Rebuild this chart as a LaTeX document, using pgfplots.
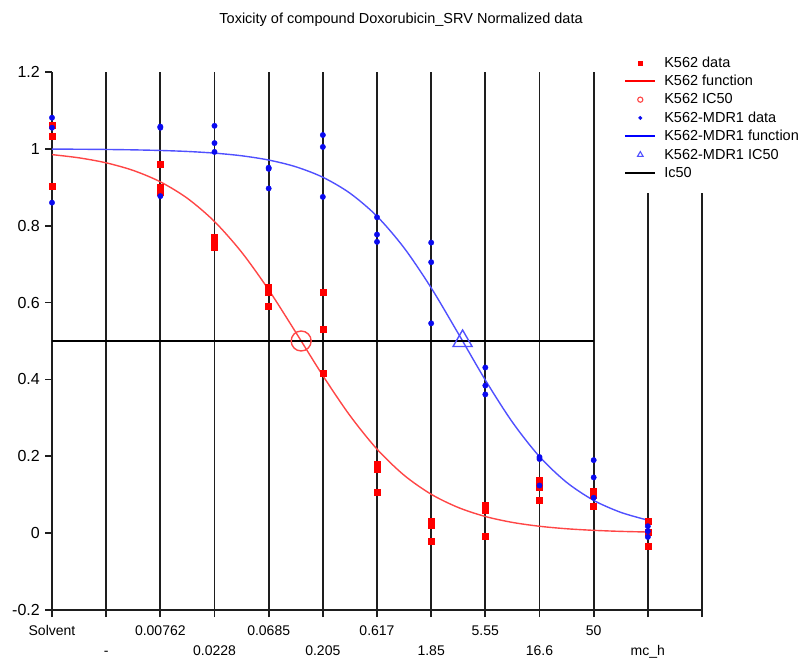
\documentclass[border=0pt]{standalone}
\usepackage{fontspec}
\setmainfont{Liberation Sans}
\usepackage{pgfplots}
\pgfplotsset{compat=1.18}
\definecolor{rdata}{RGB}{255,0,0}
\definecolor{rfun}{RGB}{255,70,70}
\definecolor{bdata}{RGB}{10,10,240}
\definecolor{bfun}{RGB}{80,80,255}
\definecolor{gridc}{RGB}{30,30,30}
\pgfplotsset{
  linelegend/.style={legend image code/.code={\draw[##1] (0bp,0bp) -- (30bp,0bp);}},
  marklegend/.style={legend image code/.code={\draw[mark repeat=2,mark phase=2,##1] plot coordinates {(0bp,0bp) (15bp,0bp) (30bp,0bp)};}},
}
\begin{document}
\begin{tikzpicture}
\useasboundingbox (0,0) rectangle (802bp,658bp);
\begin{axis}[
  at={(52bp,48bp)}, anchor=south west,
  scale only axis, width=650bp, height=538bp,
  xmin=0, xmax=12, ymin=-0.2, ymax=1.2,
  clip=false,
  axis x line=bottom, axis y line=left,
  axis line style={-, gridc, line width=1.7bp},
  tick align=outside, major tick length=7bp,
  tick style={gridc, line width=1.7bp},
  xtick={0,2,4,6,8,10,12},
  xticklabels={Solvent,0.00762,0.0685,0.617,5.55,50,{}},
  extra x ticks={1,3,5,7,9,11},
  extra x tick labels={-,0.0228,0.205,1.85,16.6,mc\_h},
  extra x tick style={grid=major, xticklabel style={yshift=-20bp}},
  xmajorgrids, grid style={gridc, line width=1.7bp},
  xticklabel style={font=\fontsize{14bp}{16bp}\selectfont, anchor=base, yshift=-18bp},
  ytick={-0.2,0,0.2,0.4,0.6,0.8,1,1.2},
  yticklabels={-0.2,0,0.2,0.4,0.6,0.8,1,1.2},
  yticklabel style={font=\fontsize{16bp}{18bp}\selectfont, anchor=east, inner sep=0pt, xshift=-5bp},
  title={Toxicity of compound Doxorubicin\_SRV Normalized data},
  title style={at={(0.537,1)}, anchor=center, yshift=46bp, font=\fontsize{14.5bp}{17bp}\selectfont},
  legend style={at={(0.874,1.0396)}, anchor=north west, draw=none, fill=white,
    font=\fontsize{14.5bp}{16bp}\selectfont, legend cell align=left,
    row sep=2.5bp, column sep=6bp, inner xsep=4bp, inner ysep=4bp},
]
% K562 data
\addplot[only marks, mark=square*, mark size=3bp, rdata, forget plot] coordinates {
 (0,1.062) (0,1.034) (0,0.904)
 (2,0.959) (2,0.901) (2,0.893) (2,0.886)
 (3,0.770) (3,0.757) (3,0.744)
 (4,0.640) (4,0.628) (4,0.590)
 (5,0.627) (5,0.532) (5,0.416)
 (6,0.180) (6,0.166) (6,0.106)
 (7,0.030) (7,0.021) (7,-0.020)
 (8,0.072) (8,0.060) (8,-0.008)
 (9,0.138) (9,0.120) (9,0.086)
 (10,0.109) (10,0.099) (10,0.070)
 (11,0.031) (11,0.003) (11,-0.033)
};
% K562 function
\addplot[rfun, line width=1.4bp, smooth, forget plot] coordinates {
 (0,0.985) (0.5,0.9766) (1,0.9636) (1.5,0.9438) (2,0.9142) (2.5,0.8712)
 (3,0.8109) (3.5,0.7312) (4,0.6332) (4.5,0.5227) (5,0.410) (5.5,0.306)
 (6,0.2186) (6.5,0.1507) (7,0.1012) (7.5,0.0667) (8,0.0433) (8.5,0.0279)
 (9,0.0179) (9.5,0.0114) (10,0.0073) (10.5,0.0046) (11,0.0029)
};
% K562 IC50
\addplot[only marks, mark=o, mark size=10bp, rfun, mark options={line width=1.4bp}, forget plot] coordinates {(4.6,0.5)};
% K562-MDR1 data
\addplot[only marks, mark=*, mark size=2.7bp, bdata, forget plot] coordinates {
 (0,1.081) (0,1.055) (0,0.860)
 (2,1.058) (2,1.055) (2,0.877)
 (3,1.060) (3,1.015) (3,0.992)
 (4,0.951) (4,0.948) (4,0.897)
 (5,1.036) (5,1.005) (5,0.875)
 (6,0.822) (6,0.777) (6,0.758)
 (7,0.756) (7,0.705) (7,0.546)
 (8,0.431) (8,0.384) (8,0.361)
 (9,0.198) (9,0.193) (9,0.124)
 (10,0.190) (10,0.145) (10,0.092)
 (11,0.018) (11,0.005) (11,-0.010)
};
% K562-MDR1 function
\addplot[bfun, line width=1.4bp, smooth, forget plot] coordinates {
 (0,0.9994) (0.5,0.999) (1,0.9984) (1.5,0.9974) (2,0.9958) (2.5,0.9932)
 (3,0.9889) (3.5,0.9820) (4,0.9709) (4.5,0.9534) (5,0.9261) (5.5,0.8847)
 (6,0.8246) (6.5,0.7423) (7,0.6383) (7.5,0.5195) (8,0.3984) (8.5,0.2887)
 (9,0.1991) (9.5,0.1322) (10,0.0853) (10.5,0.0541) (11,0.0338)
};
% K562-MDR1 IC50
\addplot[only marks, mark=triangle, mark size=11bp, bfun, mark options={line width=1.4bp}, forget plot] coordinates {(7.58,0.5)};
% Ic50 line
\addplot[black, line width=1.6bp, forget plot] coordinates {(0,0.5) (10,0.5)};

\addlegendimage{only marks, mark=square*, mark size=2bp, rdata, marklegend}
\addlegendentry{K562 data}
\addlegendimage{red, line width=2bp, linelegend}
\addlegendentry{K562 function}
\addlegendimage{only marks, mark=o, mark size=2.6bp, rfun, mark options={line width=1.1bp}, marklegend}
\addlegendentry{K562 IC50}
\addlegendimage{only marks, mark=*, mark size=1.8bp, bdata, marklegend}
\addlegendentry{K562-MDR1 data}
\addlegendimage{blue, line width=2bp, linelegend}
\addlegendentry{K562-MDR1 function}
\addlegendimage{only marks, mark=triangle, mark size=3.2bp, bfun, mark options={line width=1.1bp}, marklegend}
\addlegendentry{K562-MDR1 IC50}
\addlegendimage{black, line width=2bp, linelegend}
\addlegendentry{Ic50}
\addlegendimage{empty legend}
\addlegendentry{}
\end{axis}
\end{tikzpicture}
\end{document}
